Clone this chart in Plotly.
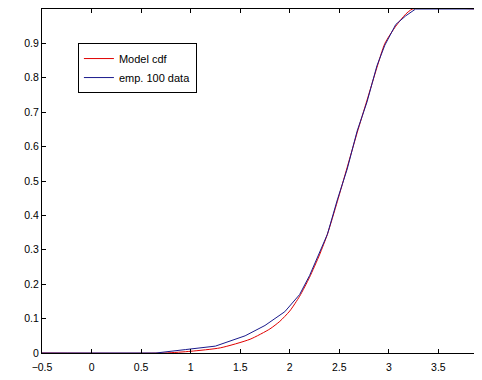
import plotly.graph_objects as go

# Data
model_x = [-0.5, 0.74, 1.0, 1.3, 1.6, 1.8, 1.9, 2.0, 2.1, 2.2, 2.3, 2.38, 2.48, 2.58, 2.68, 2.78, 2.88, 2.96, 3.07, 3.17, 3.24, 3.92]
model_y = [0, 0, 0.005, 0.015, 0.04, 0.07, 0.092, 0.122, 0.165, 0.22, 0.285, 0.345, 0.44, 0.54, 0.64, 0.735, 0.83, 0.9, 0.95, 0.985, 1.0, 1.0]

emp_x = [-0.5, 0.65, 0.95, 1.25, 1.55, 1.75, 1.95, 2.1, 2.2, 2.38, 2.48, 2.58, 2.68, 2.78, 2.88, 2.96, 3.07, 3.17, 3.27, 3.92]
emp_y = [0, 0, 0.01, 0.02, 0.05, 0.08, 0.12, 0.17, 0.225, 0.345, 0.445, 0.535, 0.645, 0.73, 0.835, 0.895, 0.955, 0.98, 1.0, 1.0]

x_ticks = [-0.5, 0, 0.5, 1, 1.5, 2, 2.5, 3, 3.5]
y_ticks = [0, 0.1, 0.2, 0.3, 0.4, 0.5, 0.6, 0.7, 0.8, 0.9, 1]

fig = go.Figure()
fig.add_trace(go.Scatter(x=model_x, y=model_y, mode="lines", name="Model cdf",
                         line=dict(color="#e00000", width=1, shape="spline", smoothing=0.6)))
fig.add_trace(go.Scatter(x=emp_x, y=emp_y, mode="lines", name="emp. 100 data",
                         line=dict(color="#1a1a8c", width=1)))

axis_common = dict(showline=True, linecolor="black", linewidth=1, mirror="ticks",
                   ticks="inside", ticklen=4, tickcolor="black", showgrid=False,
                   zeroline=False, automargin=False,
                   tickfont=dict(family="Arial, Liberation Sans", size=10.5, color="black"))

fig.update_layout(
    width=482, height=380,
    margin=dict(l=34, r=10, t=1, b=35),
    plot_bgcolor="white", paper_bgcolor="white",
    xaxis=dict(range=[-0.5, 3.92], tickvals=x_ticks, ticklabelstandoff=4, **axis_common),
    yaxis=dict(range=[0, 1], tickvals=y_ticks, **axis_common),
    legend=dict(x=0.082, y=0.901, xanchor="left", yanchor="top",
                bordercolor="black", borderwidth=1, bgcolor="white",
                font=dict(family="Arial, Liberation Sans", size=11, color="black"),
                tracegroupgap=0),
    showlegend=True,
)

fig.write_html("out.html")
